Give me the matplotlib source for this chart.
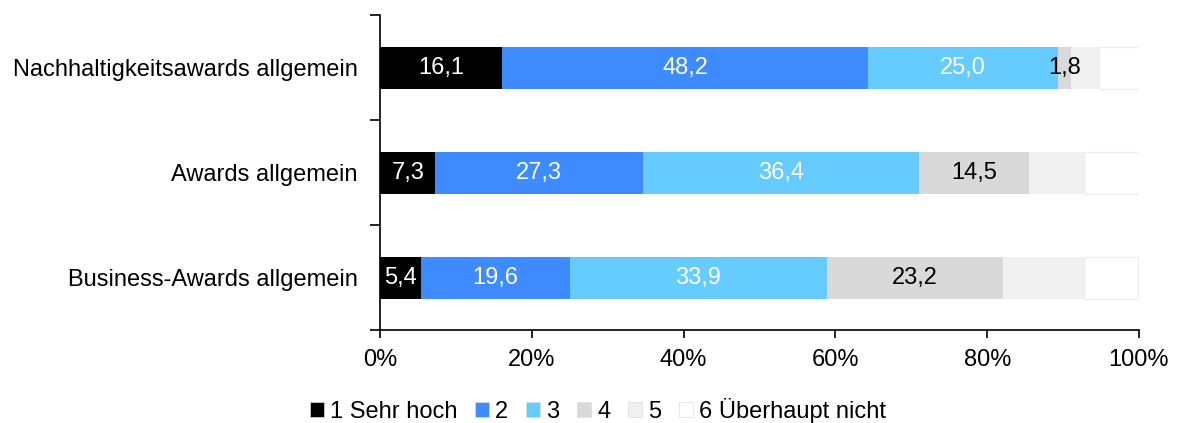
import matplotlib
matplotlib.use("Agg")
import matplotlib.pyplot as plt
import numpy as np

plt.rcParams['font.family'] = ['Liberation Sans', 'DejaVu Sans']

categories = ["Nachhaltigkeitsawards allgemein", "Awards allgemein", "Business-Awards allgemein"]
series_names = ["1 Sehr hoch", "2", "3", "4", "5", "6 Überhaupt nicht"]
values = [
    [16.1, 7.3, 5.4],
    [48.2, 27.3, 19.6],
    [25.0, 36.4, 33.9],
    [1.8, 14.5, 23.2],
    [3.6, 7.3, 10.7],
    [5.4, 7.3, 7.1],
]
colors = ["#000000", "#3D8BFF", "#66CCFF", "#D9D9D9", "#F0F0F0", "#FFFFFF"]
edgecolors = ["#000000", "#3D8BFF", "#66CCFF", "#D9D9D9", "#F0F0F0", "#EEEEEE"]
text_colors = ["white", "white", "white", "black", None, None]
xticks = [0, 20, 40, 60, 80, 100]
xticklabels = ["0%", "20%", "40%", "60%", "80%", "100%"]

FS = 17

fig = plt.figure(figsize=(11.78, 4.23), dpi=100)
ax = fig.add_axes([380/1178, 1-330/423, (1139-380)/1178, (330-15)/423])

y = np.arange(len(categories))
left = np.zeros(len(categories))
handles = []
for i, (name, vals) in enumerate(zip(series_names, values)):
    vals = np.array(vals)
    bars = ax.barh(y, vals, left=left, height=0.4, color=colors[i],
                   edgecolor=edgecolors[i], linewidth=1.0 if i == 5 else 0.0, label=name)
    handles.append(bars)
    if text_colors[i] is not None:
        for yy, l, v in zip(y, left, vals):
            ax.text(l + v/2, yy, f"{v:.1f}".replace(".", ","), ha="center", va="center",
                    color=text_colors[i], fontsize=FS)
    left += vals

ax.set_xlim(0, 100)
ax.set_ylim(2.5, -0.5)
ax.set_yticks(y)
ax.set_yticklabels(categories, fontsize=FS)
ax.set_yticks([-0.5, 0.5, 1.5, 2.5], minor=True)
ax.tick_params(axis='y', which='major', length=0, pad=16)
ax.tick_params(axis='y', which='minor', length=7, width=1.2, direction='out')
ax.set_xticks(xticks)
ax.set_xticklabels(xticklabels, fontsize=FS)
ax.tick_params(axis='x', length=6, width=1.2, direction='out', pad=8)
for s in ['top', 'right']:
    ax.spines[s].set_visible(False)
for s in ['left', 'bottom']:
    ax.spines[s].set_linewidth(1.2)

leg = fig.legend(handles=handles, labels=series_names, loc='center', bbox_to_anchor=(598/1178, 1-410/423),
                 ncol=6, frameon=False, fontsize=FS, handlelength=0.6, handleheight=0.6,
                 handletextpad=0.25, columnspacing=0.75)
for h in leg.legend_handles:
    h.set_edgecolor('#DDDDDD')
    h.set_linewidth(0.5)

fig.savefig("out.png", dpi=100)
